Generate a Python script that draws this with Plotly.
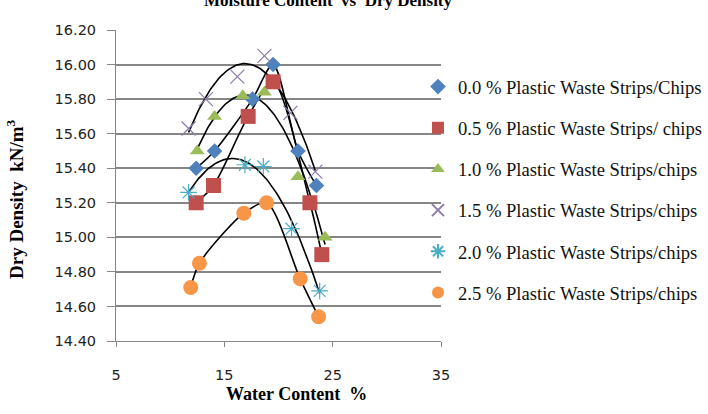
import numpy as np
import plotly.graph_objects as go

# ---- data ----
names = [
    "0.0 % Plastic Waste Strips/Chips",
    "0.5 % Plastic Waste Strips/ chips",
    "1.0 % Plastic Waste Strips/chips",
    "1.5 % Plastic Waste Strips/chips",
    "2.0 % Plastic Waste Strips/chips",
    "2.5 % Plastic Waste Strips/chips",
]
x_00 = [12.4, 14.1, 17.6, 19.5, 21.8, 23.5]
y_00 = [15.40, 15.50, 15.80, 16.00, 15.50, 15.30]
x_05 = [12.4, 14.0, 17.2, 19.5, 22.9, 24.0]
y_05 = [15.20, 15.30, 15.70, 15.90, 15.20, 14.90]
x_10 = [12.5, 14.1, 16.7, 18.7, 21.8, 24.3]
y_10 = [15.50, 15.70, 15.82, 15.84, 15.35, 15.00]
x_15 = [11.7, 13.3, 16.2, 18.7, 21.1, 23.4]
y_15 = [15.63, 15.80, 15.93, 16.05, 15.72, 15.38]
x_20 = [11.7, 16.9, 18.6, 21.2, 23.8]
y_20 = [15.26, 15.42, 15.41, 15.05, 14.69]
x_25 = [11.9, 12.7, 16.8, 18.9, 22.0, 23.7]
y_25 = [14.71, 14.85, 15.14, 15.20, 14.76, 14.54]

xs = [x_00, x_05, x_10, x_15, x_20, x_25]
ys = [y_00, y_05, y_10, y_15, y_20, y_25]
# line type per series: smoothed line through points or 2nd order trendline
line_kind = ["spline", "spline", "poly", "poly", "poly", "spline"]

colors = ["#4F81BD", "#C0504D", "#9BBB59", "#8C7BA8", "#4BACC6", "#F79646"]
symbols = ["diamond", "square", "triangle-up", "x-thin-open", "asterisk-open", "circle"]
sizes = [12, 15, 13, 14, 14, 15]

fig = go.Figure()

# black lines
for x, y, kind in zip(xs, ys, line_kind):
    if kind == "spline":
        fig.add_trace(go.Scatter(x=x, y=y, mode="lines", line=dict(color="black", width=1.6, shape="spline", smoothing=0.8),
                                 showlegend=False, hoverinfo="skip"))
    else:
        c = np.polyfit(x, y, 2)
        xx = np.linspace(min(x), max(x), 80)
        fig.add_trace(go.Scatter(x=xx, y=np.polyval(c, xx), mode="lines", line=dict(color="black", width=1.6),
                                 showlegend=False, hoverinfo="skip"))

# markers
for i, (x, y) in enumerate(zip(xs, ys)):
    mk = dict(symbol=symbols[i], size=sizes[i], color=colors[i])
    if symbols[i].endswith("open"):
        mk["line"] = dict(color=colors[i], width=1.2)
    else:
        mk["line"] = dict(width=0)
    fig.add_trace(go.Scatter(x=x, y=y, mode="markers", marker=mk, name=names[i], legendgroup=str(i)))

serif = "Liberation Serif"
tickfont = dict(family="DejaVu Sans", size=14.5, color="#222")
fig.update_layout(
    width=708, height=414,
    margin=dict(l=116, r=267, t=30, b=73, autoexpand=False),
    paper_bgcolor="white", plot_bgcolor="white",
    showlegend=True,
    legend=dict(xref="container", yref="container", x=418 / 708, y=1 - 68 / 414,
                xanchor="left", yanchor="top", font=dict(family=serif, size=18.6, color="#111"),
                tracegroupgap=14, bgcolor="rgba(0,0,0,0)", itemwidth=30, itemsizing="constant",
                maxheight=400),
    title=dict(text="<b>Moisture Content  vs  Dry Density</b>", xref="container", yref="container",
               x=328 / 708, y=1 - 6 / 414, xanchor="center", yanchor="bottom",
               font=dict(family=serif, size=17, color="black")),
    xaxis=dict(range=[5, 35], tickvals=[5, 15, 25, 35], showgrid=False, zeroline=False,
               showline=True, linecolor="#868686", linewidth=1, ticks="outside", ticklen=5,
               tickcolor="#868686", tickfont=tickfont, ticklabelstandoff=16),
    yaxis=dict(range=[14.4, 16.2], dtick=0.2, tick0=14.4, tickformat=".2f", showgrid=True,
               gridcolor="#868686", gridwidth=1.5, zeroline=False, showline=True, linecolor="#868686",
               linewidth=1, ticks="outside", ticklen=8, tickcolor="#868686",
               tickfont=tickfont, ticklabelstandoff=8),
)

fig.add_annotation(text="<b>Water Content  %</b>", xref="paper", yref="paper", x=(296 - 116) / 325, y=-(394 - 341) / 311,
                   xanchor="center", yanchor="middle", showarrow=False, font=dict(family=serif, size=18, color="black"))
fig.add_annotation(text="<b>Dry Density  kN/m<sup>3</sup></b>", xref="paper", yref="paper", x=-(116 - 15) / 325,
                   y=(341 - 199) / 311, xanchor="center", yanchor="middle", textangle=-90, showarrow=False,
                   font=dict(family=serif, size=19, color="black"))

fig.write_html("out.html")
